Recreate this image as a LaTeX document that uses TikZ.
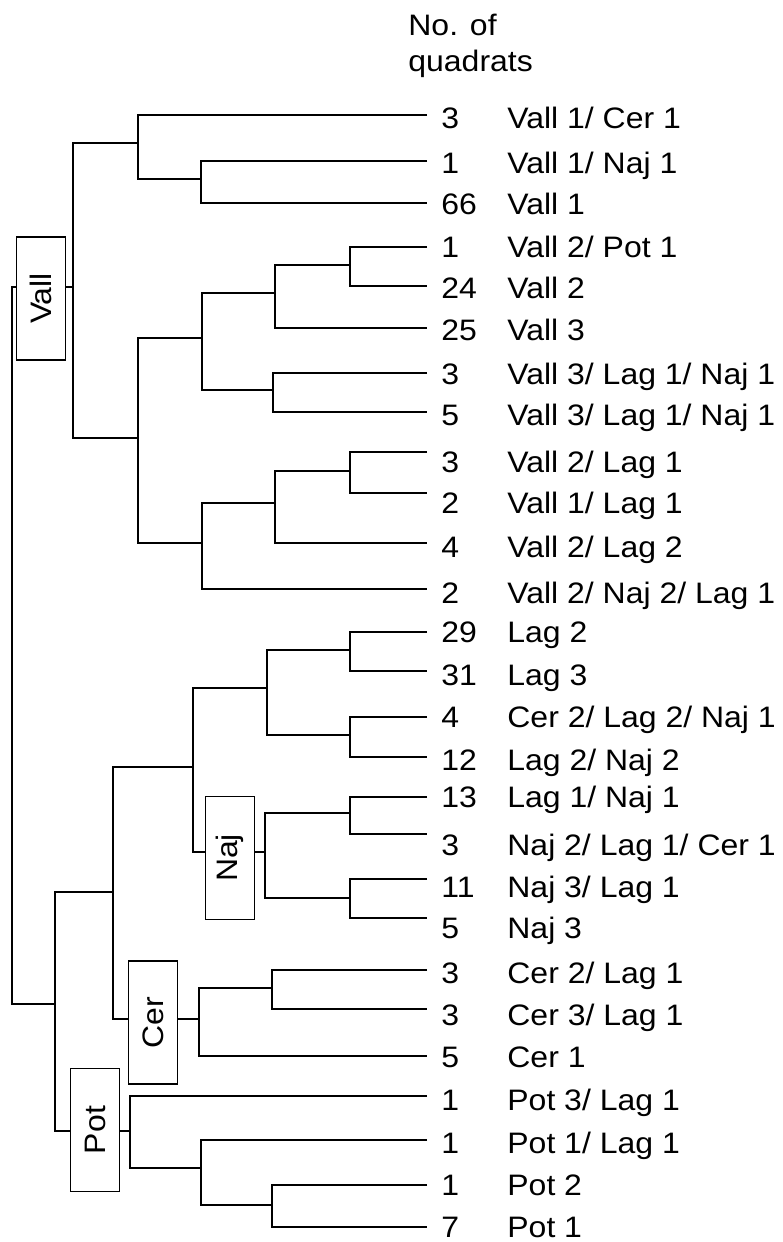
\documentclass[tikz,border=0pt]{standalone}
\usepackage{fontspec}
\usepackage{graphicx}
\setmainfont{Liberation Sans}[FakeStretch=1.08]
\begin{document}
\begin{tikzpicture}[x=0.5pt,y=-0.5pt,
  tree/.style={line width=1pt},
  grp/.style={draw, line width=0.9pt, inner sep=0pt, minimum width=24.5pt, minimum height=61.5pt, font=\fontsize{14.8}{16}\selectfont},
  num/.style={anchor=base west, inner sep=0pt, font=\fontsize{14.8}{16}\selectfont},
  lab/.style={anchor=base west, inner sep=0pt, font=\fontsize{14.8}{16}\selectfont},
  hdr/.style={anchor=base west, inner sep=0pt, font=\fontsize{14.8}{16}\selectfont}]
\useasboundingbox (0,0) rectangle (782,1242);

% header
\node[hdr] (h1) at (408,35) {No. of};
\node[hdr] (h2) at (408,71) {quadrats};

% group boxes
\node[grp] (vall) at (41,298.5) {\rotatebox{90}{Vall}};
\node[grp] (naj) at (230,858) {\rotatebox{90}{Naj}};
\node[grp] (cer) at (153,1022.5) {\rotatebox{90}{Cer}};
\node[grp] (pot) at (95,1130) {\rotatebox{90}{Pot}};

% numbers and labels
\node[num] (n1) at (441,128.5) {3};   \node[lab] (t1) at (507,128.5) {Vall 1/ Cer 1};
\node[num] (n2) at (441,173.5) {1};   \node[lab] (t2) at (507,173.5) {Vall 1/ Naj 1};
\node[num] (n3) at (441,214.5) {66};  \node[lab] (t3) at (507,214.5) {Vall 1};
\node[num] (n4) at (441,257.5) {1};   \node[lab] (t4) at (507,257.5) {Vall 2/ Pot 1};
\node[num] (n5) at (441,298.5) {24};  \node[lab] (t5) at (507,298.5) {Vall 2};
\node[num] (n6) at (441,340.5) {25};  \node[lab] (t6) at (507,340.5) {Vall 3};
\node[num] (n7) at (441,384.5) {3};   \node[lab] (t7) at (507,384.5) {Vall 3/ Lag 1/ Naj 1};
\node[num] (n8) at (441,425.5) {5};   \node[lab] (t8) at (507,425.5) {Vall 3/ Lag 1/ Naj 1};
\node[num] (n9) at (441,472.5) {3};   \node[lab] (t9) at (507,472.5) {Vall 2/ Lag 1};
\node[num] (n10) at (441,513.5) {2};  \node[lab] (t10) at (507,513.5) {Vall 1/ Lag 1};
\node[num] (n11) at (441,557.5) {4};  \node[lab] (t11) at (507,557.5) {Vall 2/ Lag 2};
\node[num] (n12) at (441,603.5) {2};  \node[lab] (t12) at (507,603.5) {Vall 2/ Naj 2/ Lag 1};
\node[num] (n13) at (441,642.5) {29}; \node[lab] (t13) at (507,642.5) {Lag 2};
\node[num] (n14) at (441,685.5) {31}; \node[lab] (t14) at (507,685.5) {Lag 3};
\node[num] (n15) at (441,727.5) {4};  \node[lab] (t15) at (507,727.5) {Cer 2/ Lag 2/ Naj 1};
\node[num] (n16) at (441,770.5) {12}; \node[lab] (t16) at (507,770.5) {Lag 2/ Naj 2};
\node[num] (n17) at (441,807.5) {13}; \node[lab] (t17) at (507,807.5) {Lag 1/ Naj 1};
\node[num] (n18) at (441,855.5) {3};  \node[lab] (t18) at (507,855.5) {Naj 2/ Lag 1/ Cer 1};
\node[num] (n19) at (441,897.5) {11}; \node[lab] (t19) at (507,897.5) {Naj 3/ Lag 1};
\node[num] (n20) at (441,938.5) {5};  \node[lab] (t20) at (507,938.5) {Naj 3};
\node[num] (n21) at (441,983.5) {3};  \node[lab] (t21) at (507,983.5) {Cer 2/ Lag 1};
\node[num] (n22) at (441,1025.5) {3}; \node[lab] (t22) at (507,1025.5) {Cer 3/ Lag 1};
\node[num] (n23) at (441,1067.5) {5}; \node[lab] (t23) at (507,1067.5) {Cer 1};
\node[num] (n24) at (441,1110.5) {1}; \node[lab] (t24) at (507,1110.5) {Pot 3/ Lag 1};
\node[num] (n25) at (441,1153.5) {1}; \node[lab] (t25) at (507,1153.5) {Pot 1/ Lag 1};
\node[num] (n26) at (441,1195.5) {1}; \node[lab] (t26) at (507,1195.5) {Pot 2};
\node[num] (n27) at (441,1237.5) {7}; \node[lab] (t27) at (507,1237.5) {Pot 1};

% leaf ends
\coordinate (e1) at (427,115);  \coordinate (e2) at (427,161);  \coordinate (e3) at (427,203);
\coordinate (e4) at (427,247);  \coordinate (e5) at (427,286);  \coordinate (e6) at (427,328);
\coordinate (e7) at (427,373);  \coordinate (e8) at (427,412);  \coordinate (e9) at (427,452);
\coordinate (e10) at (427,493); \coordinate (e11) at (427,543); \coordinate (e12) at (427,589);
\coordinate (e13) at (427,632); \coordinate (e14) at (427,671); \coordinate (e15) at (427,717);
\coordinate (e16) at (427,757); \coordinate (e17) at (427,797); \coordinate (e18) at (427,834);
\coordinate (e19) at (427,879); \coordinate (e20) at (427,918); \coordinate (e21) at (427,970);
\coordinate (e22) at (427,1009); \coordinate (e23) at (427,1056); \coordinate (e24) at (427,1096);
\coordinate (e25) at (427,1140); \coordinate (e26) at (427,1185); \coordinate (e27) at (427,1227);

% internal nodes (x of vertical line, y where parent attaches)
\coordinate (root) at (12,600);
\coordinate (v) at (73,287);
\coordinate (a) at (138,143);
\coordinate (a2) at (201,179);
\coordinate (b) at (138,438);
\coordinate (b1) at (202,338);
\coordinate (b11) at (275,293);
\coordinate (b111) at (350,265);
\coordinate (b12) at (273,390);
\coordinate (b2) at (202,543);
\coordinate (b21) at (275,503);
\coordinate (b211) at (350,471);
\coordinate (bot) at (55,1004);
\coordinate (c) at (113,892);
\coordinate (c1) at (193,767);
\coordinate (c11) at (267,688);
\coordinate (c111) at (350,650);
\coordinate (c112) at (350,735);
\coordinate (c12) at (265,852);
\coordinate (c121) at (350,813);
\coordinate (c122) at (350,898);
\coordinate (c2) at (199,1019);
\coordinate (c21) at (272,988);
\coordinate (d) at (130,1131);
\coordinate (d2) at (201,1168);
\coordinate (d21) at (272,1205);

\begin{scope}[tree]
% root and Vall
\draw (vall.west |- v) -| (root) |- (bot);
\draw (vall.east |- v) -- (v);
\draw (a) -| (v) |- (b);
\draw (e1) -| (a) |- (a2);
\draw (e2) -| (a2) |- (e3);
\draw (b1) -| (b) |- (b2);
\draw (b11) -| (b1) |- (b12);
\draw (b111) -| (b11) |- (e6);
\draw (e4) -| (b111) |- (e5);
\draw (e7) -| (b12) |- (e8);
\draw (b21) -| (b2) |- (e12);
\draw (b211) -| (b21) |- (e11);
\draw (e9) -| (b211) |- (e10);
% lower part
\draw (c) -| (bot) |- (pot.west |- d);
\draw (pot.east |- d) -- (d);
\draw (c1) -| (c) |- (cer.west |- c2);
\draw (cer.east |- c2) -- (c2);
\draw (c11) -| (c1) |- (naj.west |- c12);
\draw (naj.east |- c12) -- (c12);
\draw (c111) -| (c11) |- (c112);
\draw (e13) -| (c111) |- (e14);
\draw (e15) -| (c112) |- (e16);
\draw (c121) -| (c12) |- (c122);
\draw (e17) -| (c121) |- (e18);
\draw (e19) -| (c122) |- (e20);
\draw (c21) -| (c2) |- (e23);
\draw (e21) -| (c21) |- (e22);
\draw (e24) -| (d) |- (d2);
\draw (e25) -| (d2) |- (d21);
\draw (e26) -| (d21) |- (e27);
\end{scope}
\end{tikzpicture}
\end{document}
